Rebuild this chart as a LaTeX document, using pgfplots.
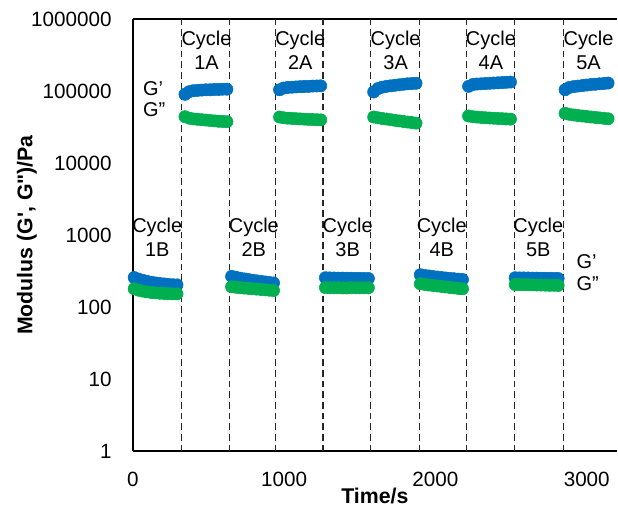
\documentclass[border=0pt]{standalone}
\usepackage{pgfplots}
\pgfplotsset{compat=1.18}
\usepackage{fontspec}
\setmainfont{Liberation Sans}[Ligatures=TeXOff]
\definecolor{gblue}{HTML}{0070C0}
\definecolor{ggreen}{HTML}{00B050}
\begin{document}
\fontsize{15pt}{18pt}\selectfont
\begin{tikzpicture}
\begin{axis}[name=ax, scale only axis, width=363.75pt, height=324.75pt,
 xmin=0, xmax=3200, ymode=log, ymin=1, ymax=1000000,
 axis x line=box, axis y line=left, axis line style={line width=1.5pt, -},
 xtick={0,1000,2000,3000}, xticklabels={0,1000,2000,3000},
 ytick={1,10,100,1000,10000,100000,1000000},
 yticklabels={1,10,100,1000,10000,100000,1000000},
 major tick length=0pt, yminorticks=false, xminorticks=false,
 tick style={draw=none},
 tick label style={font=\fontsize{15.5pt}{18pt}\selectfont},
 xticklabel style={anchor=center, inner sep=0pt, yshift=-21pt},
 yticklabel style={anchor=east, inner sep=0pt, xshift=-15.75pt},
 xlabel={Time/s}, ylabel={Modulus (G', G")/Pa},
 label style={font=\fontsize{16pt}{18pt}\selectfont\bfseries},
 xlabel style={at={(axis description cs:0.5,-0.1039)}, anchor=center},
 ylabel style={at={(axis description cs:-0.2186,0.5)}, anchor=center},
 clip=false,
]
% dashed separators
\pgfplotsinvokeforeach{321,642,945,1257,1574,1892,2205,2525,2849}{
  \addplot[black!85, line width=0.8pt, dash pattern=on 5pt off 3pt] coordinates {(#1,1) (#1,1000000)};
}
% G' (blue)
\addplot[gblue, only marks, mark=*, mark size=4.6pt] coordinates {
(9,258) (37,246) (66,236) (94,228) (122,222) (150,217) (179,213) (207,210) (235,207) (264,205) (292,204)
(345,90000) (373,98000) (400,101000) (428,102000) (456,103000) (483,104000) (511,104000) (539,105000) (567,105000) (594,106000) (622,106000)
(653,268) (681,260) (708,253) (736,247) (764,242) (791,237) (819,232) (847,228) (875,224) (902,220) (930,217)
(970,104000) (997,110000) (1024,112000) (1052,113000) (1079,114000) (1106,115000) (1133,115500) (1160,116000) (1188,117000) (1215,117500) (1242,118000)
(1273,256) (1301,255) (1330,254) (1358,253) (1387,253) (1415,252) (1443,252) (1472,251) (1500,251) (1529,250) (1557,250)
(1592,97000) (1620,108000) (1648,113000) (1676,116000) (1704,118000) (1732,120000) (1760,122000) (1788,124000) (1816,126000) (1844,127000) (1872,128000)
(1900,282) (1928,276) (1956,271) (1984,266) (2012,262) (2040,258) (2067,254) (2095,251) (2123,248) (2151,245) (2179,242)
(2219,116000) (2247,123000) (2274,125000) (2302,126000) (2330,127000) (2358,128000) (2385,129000) (2413,130000) (2441,131000) (2468,132000) (2496,133000)
(2527,256) (2555,255) (2584,255) (2612,254) (2641,253) (2669,253) (2697,252) (2726,252) (2754,251) (2783,251) (2811,250)
(2857,104000) (2885,112000) (2914,115000) (2942,117000) (2971,119000) (2999,121000) (3027,123000) (3056,124000) (3084,126000) (3113,127000) (3141,129000)
};
% G'' (green)
\addplot[ggreen, only marks, mark=*, mark size=4.6pt] coordinates {
(9,180) (37,172) (66,167) (94,163) (122,160) (150,158) (179,156) (207,155) (235,154) (264,153) (292,153)
(345,44000) (373,42000) (400,41000) (428,40500) (456,40000) (483,39500) (511,39000) (539,38500) (567,38000) (594,37800) (622,37500)
(653,192) (681,189) (708,186) (736,184) (764,182) (791,180) (819,178) (847,176) (875,174) (902,172) (930,170)
(970,43500) (997,42500) (1024,42000) (1052,41700) (1079,41300) (1106,41000) (1133,40700) (1160,40400) (1188,40200) (1215,40000) (1242,39800)
(1273,187) (1301,186) (1330,186) (1358,186) (1387,185) (1415,185) (1443,186) (1472,186) (1500,186) (1529,186) (1557,186)
(1592,43500) (1620,42500) (1648,41600) (1676,40800) (1704,40000) (1732,39200) (1760,38500) (1788,37800) (1816,37100) (1844,36500) (1872,35800)
(1900,211) (1928,207) (1956,203) (1984,200) (2012,197) (2040,194) (2067,191) (2095,188) (2123,185) (2151,182) (2179,180)
(2219,45000) (2247,44000) (2274,43500) (2302,43000) (2330,42600) (2358,42200) (2385,41900) (2413,41600) (2441,41300) (2468,41000) (2496,40700)
(2527,206) (2555,206) (2584,205) (2612,205) (2641,204) (2669,203) (2697,203) (2726,202) (2754,201) (2783,201) (2811,200)
(2857,49000) (2885,47500) (2914,46500) (2942,45700) (2971,45000) (2999,44300) (3027,43600) (3056,43000) (3084,42400) (3113,41800) (3141,41200)
};
% annotations
\node[align=center, inner sep=0pt] at (axis cs:487,371500) {Cycle\\1A};
\node[align=center, inner sep=0pt] at (axis cs:1107,371500) {Cycle\\2A};
\node[align=center, inner sep=0pt] at (axis cs:1737,371500) {Cycle\\3A};
\node[align=center, inner sep=0pt] at (axis cs:2367,371500) {Cycle\\4A};
\node[align=center, inner sep=0pt] at (axis cs:3012,371500) {Cycle\\5A};
\node[align=center, inner sep=0pt] at (axis cs:162,944) {Cycle\\1B};
\node[align=center, inner sep=0pt] at (axis cs:800,944) {Cycle\\2B};
\node[align=center, inner sep=0pt] at (axis cs:1420,944) {Cycle\\3B};
\node[align=center, inner sep=0pt] at (axis cs:2042,944) {Cycle\\4B};
\node[align=center, inner sep=0pt] at (axis cs:2680,944) {Cycle\\5B};
\node[anchor=west, inner sep=0pt] at (axis cs:66,109500) {G’};
\node[anchor=west, inner sep=0pt] at (axis cs:66,54800) {G”};
\node[anchor=west, inner sep=0pt] at (axis cs:2932,422) {G’};
\node[anchor=west, inner sep=0pt] at (axis cs:2932,211) {G”};
\end{axis}
\path (ax.south west) ++(-99.75pt,-46.5pt) coordinate (bl);
\path (ax.south west) ++(363.75pt,339pt) coordinate (tr);
\path (bl) rectangle (tr);
\end{tikzpicture}
\end{document}
